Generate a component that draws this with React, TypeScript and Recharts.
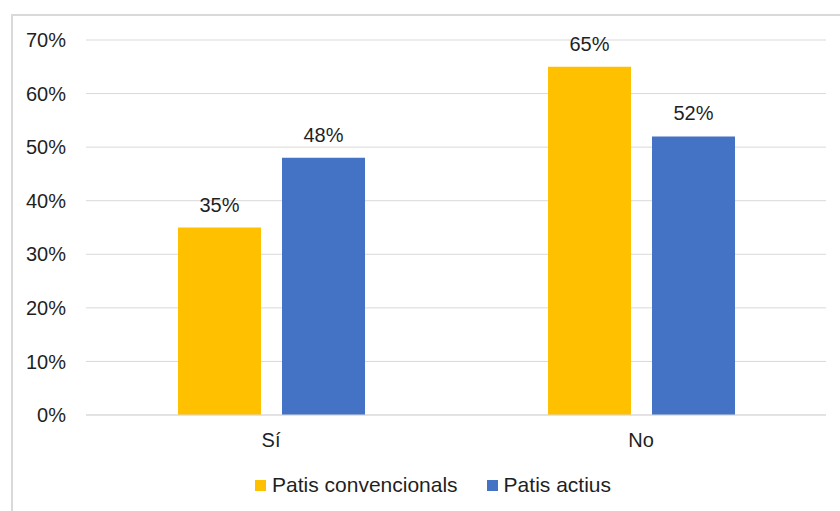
import React from "react";
import { BarChart, Bar, XAxis, YAxis, CartesianGrid, Legend, LabelList } from "recharts";

const categories = ["Sí", "No"];
const convencionals = [35, 65];
const actius = [48, 52];
const yTicks = [0, 10, 20, 30, 40, 50, 60, 70];
const seriesOrder = ["conv", "act"];

const data = categories.map((c, i) => ({ cat: c, conv: convencionals[i], act: actius[i] }));

const FONT = "'Liberation Sans', Arial, sans-serif";
const TEXT = "#1f1f1f";

const renderLegend = (props: any) => {
  const payload = [...(props.payload || [])].sort(
    (a: any, b: any) => seriesOrder.indexOf(a.dataKey) - seriesOrder.indexOf(b.dataKey)
  );
  return (
    <div style={{ display: "flex", justifyContent: "center", alignItems: "center", height: 40, paddingLeft: 40, boxSizing: "border-box", fontFamily: FONT, fontSize: 21, color: TEXT }}>
      {payload.map((p: any, i: number) => (
        <div key={i} style={{ display: "flex", alignItems: "center", marginLeft: i ? 29 : 0 }}>
          <span style={{ display: "inline-block", width: 11, height: 11, background: p.color, marginRight: 6 }} />
          <span>{p.value}</span>
        </div>
      ))}
    </div>
  );
};

export default function App() {
  return (
    <div style={{ position: "absolute", left: 0, top: 0, width: 840, height: 511, overflow: "hidden", background: "#fff" }}>
      <div style={{ position: "absolute", left: 11, top: 14, width: 900, height: 600, borderLeft: "2px solid #d9d9d9", borderTop: "2px solid #d9d9d9", boxSizing: "border-box" }} />
      <BarChart width={840} height={511} data={data} margin={{ top: 40, right: 14, bottom: 6, left: 0 }} barSize={83} barGap={21}>
        <CartesianGrid vertical={false} stroke="#d9d9d9" strokeWidth={1} />
        <XAxis dataKey="cat" axisLine={{ stroke: "#d9d9d9" }} tickLine={false} height={50} tickMargin={12}
          tick={{ fontFamily: FONT, fontSize: 20, fill: TEXT }} />
        <YAxis domain={[0, 70]} ticks={yTicks} width={86} axisLine={false} tickLine={false} tickMargin={14}
          tickFormatter={(v: number) => `${v}%`} tick={{ fontFamily: FONT, fontSize: 20, fill: TEXT }} />
        <Legend verticalAlign="bottom" height={40} content={renderLegend} />
        <Bar dataKey="conv" name="Patis convencionals" fill="#FFC000" isAnimationActive={false}>
          <LabelList dataKey="conv" position="top" offset={16} formatter={(v: number) => `${v}%`}
            style={{ fontFamily: FONT, fontSize: 20, fill: TEXT }} />
        </Bar>
        <Bar dataKey="act" name="Patis actius" fill="#4472C4" isAnimationActive={false}>
          <LabelList dataKey="act" position="top" offset={16} formatter={(v: number) => `${v}%`}
            style={{ fontFamily: FONT, fontSize: 20, fill: TEXT }} />
        </Bar>
      </BarChart>
    </div>
  );
}
